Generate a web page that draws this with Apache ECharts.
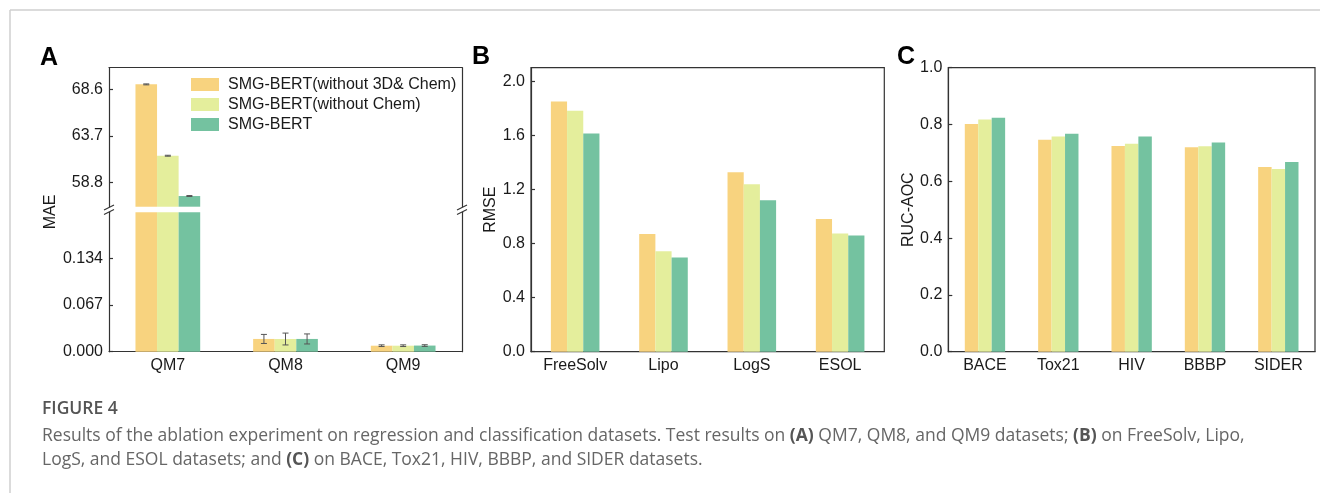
<!DOCTYPE html>
<html>
<head>
<meta charset="utf-8">
<script src="https://cdn.jsdelivr.net/npm/echarts@6/dist/echarts.min.js"></script>
<style>html,body{margin:0;padding:0;background:#fff;}#c{width:1320px;height:493px;}</style>
</head>
<body>
<div id="c"></div>
<script>
// ---------- data ----------
const methods = ['SMG-BERT(without 3D& Chem)', 'SMG-BERT(without Chem)', 'SMG-BERT'];
const colors = ['#F8D37F', '#E4EE9C', '#74C2A0'];

// Panel A (MAE, broken axis)
const catsA = ['QM7', 'QM8', 'QM9'];
const maeNo3DChem = [69.12, 0.0183, 0.0086];
const maeNoChem   = [61.63, 0.0182, 0.0086];
const maeFull     = [57.40, 0.0183, 0.0088];
const errNo3DChem = [0.05, 0.0065, 0.0012];
const errNoChem   = [0.05, 0.0085, 0.0012];
const errFull     = [0.05, 0.0072, 0.0012];
const upperRangeA = [56.28, 70.87];
const lowerRangeA = [0, 0.2];
const upperTicksA = [58.8, 63.7, 68.6];
const lowerTicksA = [0, 0.067, 0.134];

// Panel B (RMSE)
const catsB = ['FreeSolv', 'Lipo', 'LogS', 'ESOL'];
const rmseNo3DChem = [1.850, 0.871, 1.326, 0.982];
const rmseNoChem   = [1.781, 0.743, 1.238, 0.874];
const rmseFull     = [1.614, 0.697, 1.120, 0.859];

// Panel C (RUC-AOC)
const catsC = ['BACE', 'Tox21', 'HIV', 'BBBP', 'SIDER'];
const aucNo3DChem = [0.802, 0.746, 0.724, 0.720, 0.650];
const aucNoChem   = [0.818, 0.758, 0.732, 0.723, 0.643];
const aucFull     = [0.824, 0.767, 0.758, 0.737, 0.668];

const captionTitle = 'FIGURE 4';
const captionLine1 = 'Results of the ablation experiment on regression and classification datasets. Test results on {b|(A)} QM7, QM8, and QM9 datasets; {b|(B)} on FreeSolv, Lipo,';
const captionLine2 = 'LogS, and ESOL datasets; and {b|(C)} on BACE, Tox21, HIV, BBBP, and SIDER datasets.';

// ---------- chart ----------
const FONT = 'Liberation Sans, Arial, sans-serif';
const CAPFONT = '"Open Sans", sans-serif';
const AX = '#333';
const TXT = '#1a1a1a';
const CAT_GAP = 0.45;

const maeSets = [maeNo3DChem, maeNoChem, maeFull];
const errSets = [errNo3DChem, errNoChem, errFull];
const rmseSets = [rmseNo3DChem, rmseNoChem, rmseFull];
const aucSets = [aucNo3DChem, aucNoChem, aucFull];

const chart = echarts.init(document.getElementById('c'), null, {renderer: 'canvas'});

function catAxis(gridIndex, data, opts) {
  return Object.assign({
    type: 'category', gridIndex: gridIndex, data: data,
    axisLine: {show: true, onZero: false, lineStyle: {color: AX, width: 1.2}},
    axisTick: {show: true, inside: true, alignWithLabel: true, length: 5, lineStyle: {color: AX, width: 1.2}},
    axisLabel: {show: true, fontFamily: FONT, fontSize: 16, color: TXT, margin: 6},
    splitLine: {show: false}
  }, opts || {});
}
function valAxis(gridIndex, opts) {
  return Object.assign({
    type: 'value', gridIndex: gridIndex,
    axisLine: {show: true, lineStyle: {color: AX, width: 1.2}},
    axisTick: {show: true, inside: true, length: 4, lineStyle: {color: AX, width: 1.2}},
    axisLabel: {fontFamily: FONT, fontSize: 16, color: TXT, margin: 6},
    splitLine: {show: false},
    nameLocation: 'middle', nameRotate: 90,
    nameTextStyle: {fontFamily: FONT, fontSize: 16, color: TXT}
  }, opts || {});
}
function lineOnlyAxis(gridIndex, position) {
  return {type: 'value', gridIndex: gridIndex, position: position, min: 0, max: 1,
    axisLine: {show: true, lineStyle: {color: AX, width: 1.2}},
    axisTick: {show: false}, axisLabel: {show: false}, splitLine: {show: false}};
}

function errRenderer(k) {
  return function (params, api) {
    const ci = api.value(0), m = api.value(1), e = api.value(2);
    const catW = api.size([1, 0])[0];
    const bw = catW * (1 - CAT_GAP) / 3;
    const cx = api.coord([ci, m])[0] + (k - 1) * bw;
    const yt = api.coord([ci, m + e])[1];
    const yb = api.coord([ci, m - e])[1];
    const st = {stroke: '#555', lineWidth: 1};
    return {type: 'group', children: [
      {type: 'line', shape: {x1: cx, y1: yt, x2: cx, y2: yb}, style: st},
      {type: 'line', shape: {x1: cx - 3, y1: yt, x2: cx + 3, y2: yt}, style: st},
      {type: 'line', shape: {x1: cx - 3, y1: yb, x2: cx + 3, y2: yb}, style: st}
    ]};
  };
}

const series = [];
methods.forEach(function (name, k) {
  const base = {name: name, type: 'bar', barGap: 0, barCategoryGap: (CAT_GAP * 100) + '%',
    itemStyle: {color: colors[k]}, clip: true, emphasis: {disabled: true}};
  series.push(Object.assign({}, base, {xAxisIndex: 0, yAxisIndex: 0,
    data: maeSets[k].map(v => v >= upperRangeA[0] ? v : null)}));
  series.push(Object.assign({}, base, {xAxisIndex: 1, yAxisIndex: 2, data: maeSets[k].slice()}));
  series.push(Object.assign({}, base, {xAxisIndex: 2, yAxisIndex: 4, data: rmseSets[k].slice()}));
  series.push(Object.assign({}, base, {xAxisIndex: 3, yAxisIndex: 5, data: aucSets[k].slice()}));
  const up = [], lo = [];
  maeSets[k].forEach(function (v, i) {
    const item = [i, v, errSets[k][i]];
    if (v >= upperRangeA[0]) up.push(item); else lo.push(item);
  });
  series.push({name: name, type: 'custom', xAxisIndex: 0, yAxisIndex: 0, renderItem: errRenderer(k),
    data: up, encode: {x: 0, y: 1}, z: 5, silent: true});
  series.push({name: name, type: 'custom', xAxisIndex: 1, yAxisIndex: 2, renderItem: errRenderer(k),
    data: lo, encode: {x: 0, y: 1}, z: 5, silent: true});
});

const brk = {stroke: '#333', lineWidth: 1.2};
function slash(x, y) {
  return {type: 'line', shape: {x1: x - 5, y1: y + 2.5, x2: x + 5, y2: y - 2.5}, style: brk, z: 100};
}

const option = {
  backgroundColor: '#fff',
  animation: false,
  textStyle: {fontFamily: FONT},
  legend: {
    data: methods, orient: 'vertical', left: 191, top: 76.5, padding: 0,
    itemWidth: 28, itemHeight: 13, itemGap: 4, icon: 'rect', selectedMode: false,
    textStyle: {fontFamily: FONT, fontSize: 16, color: TXT, padding: [0, 0, 0, 4]}
  },
  grid: [
    {left: 109, top: 67.7, width: 353, height: 139},
    {left: 109, top: 212.3, width: 353, height: 139.4},
    {left: 531, top: 67.7, width: 353.3, height: 284, show: true, borderColor: AX, borderWidth: 1.2},
    {left: 948.3, top: 67.7, width: 366.7, height: 284, show: true, borderColor: AX, borderWidth: 1.2}
  ],
  xAxis: [
    catAxis(0, catsA, {position: 'top', axisTick: {show: false}, axisLabel: {show: false}}),
    catAxis(1, catsA, {position: 'bottom'}),
    catAxis(2, catsB),
    catAxis(3, catsC)
  ],
  yAxis: [
    valAxis(0, {min: upperRangeA[0], max: upperRangeA[1],
      axisLabel: {fontFamily: FONT, fontSize: 16, color: TXT, margin: 6, customValues: upperTicksA,
        formatter: v => v.toFixed(1)},
      axisTick: {show: true, inside: true, length: 4, customValues: upperTicksA, lineStyle: {color: AX, width: 1.2}}}),
    lineOnlyAxis(0, 'right'),
    valAxis(1, {min: lowerRangeA[0], max: lowerRangeA[1], name: 'MAE', nameGap: 46,
      axisLabel: {fontFamily: FONT, fontSize: 16, color: TXT, margin: 6, customValues: lowerTicksA,
        formatter: v => v.toFixed(3)},
      axisTick: {show: true, inside: true, length: 4, customValues: lowerTicksA, lineStyle: {color: AX, width: 1.2}},
      nameTextStyle: {fontFamily: FONT, fontSize: 16, color: TXT, padding: [0, 0, 0, 140]}}),
    lineOnlyAxis(1, 'right'),
    valAxis(2, {min: 0, max: 2.1, interval: 0.4, name: 'RMSE', nameGap: 29,
      axisLabel: {fontFamily: FONT, fontSize: 16, color: TXT, margin: 6, showMaxLabel: false,
        formatter: v => v.toFixed(1)}}),
    valAxis(3, {min: 0, max: 1, interval: 0.2, name: 'RUC-AOC', nameGap: 31,
      axisLabel: {fontFamily: FONT, fontSize: 16, color: TXT, margin: 6, formatter: v => v.toFixed(1)}})
  ],
  series: series,
  graphic: [
    {type: 'line', shape: {x1: 10, y1: 10, x2: 1320, y2: 10}, style: {stroke: '#cfcfcf', lineWidth: 1.5}},
    {type: 'line', shape: {x1: 10, y1: 10, x2: 10, y2: 493}, style: {stroke: '#cfcfcf', lineWidth: 1.5}},
    slash(109, 207.5), slash(109, 212),
    slash(462, 207.5), slash(462, 212),
    {type: 'text', left: 40, top: 46, style: {text: 'A', font: 'bold 25px ' + FONT, fill: '#000'}},
    {type: 'text', left: 472, top: 45, style: {text: 'B', font: 'bold 25px ' + FONT, fill: '#000'}},
    {type: 'text', left: 897, top: 45, style: {text: 'C', font: 'bold 25px ' + FONT, fill: '#000'}},
    {type: 'text', left: 42, top: 400, style: {text: captionTitle, font: '600 17.5px ' + CAPFONT, fill: '#555'}},
    {type: 'text', left: 42, top: 427, style: {text: captionLine1, font: '17.5px ' + CAPFONT, fill: '#666',
      rich: {b: {font: 'bold 17.5px ' + CAPFONT, fill: '#555'}}}},
    {type: 'text', left: 42, top: 451, style: {text: captionLine2, font: '17.5px ' + CAPFONT, fill: '#666',
      rich: {b: {font: 'bold 17.5px ' + CAPFONT, fill: '#555'}}}}
  ]
};
chart.setOption(option);
</script>
</body>
</html>
